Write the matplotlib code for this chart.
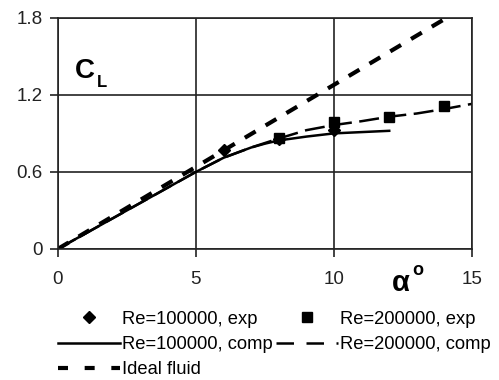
import matplotlib.pyplot as plt
from matplotlib.lines import Line2D

plt.rcParams['font.family'] = ['Liberation Sans', 'DejaVu Sans']

# measured points (angle of attack in degrees, lift coefficient)
exp100_a = [6, 8, 10]
exp100_cl = [0.77, 0.86, 0.93]
exp200_a = [8, 10, 12, 14]
exp200_cl = [0.865, 0.99, 1.03, 1.11]

# computed curves
comp100_a = [0, 1, 2, 3, 4, 5, 6, 7, 7.5, 8, 9, 10, 11, 12]
comp100_cl = [0, 0.12, 0.24, 0.36, 0.48, 0.6, 0.71, 0.79, 0.82, 0.845, 0.875, 0.9, 0.91, 0.92]
comp200_a = [0, 1, 2, 3, 4, 5, 6, 7, 8, 9, 10, 11, 12, 13, 14, 15]
comp200_cl = [0, 0.12, 0.24, 0.36, 0.48, 0.6, 0.71, 0.79, 0.86, 0.925, 0.965, 0.995, 1.03, 1.055, 1.09, 1.13]
ideal_a = [0, 14]
ideal_cl = [0, 1.79]

xticks = [0, 5, 10, 15]
yticks = [0, 0.6, 1.2, 1.8]

fig = plt.figure(figsize=(4.99, 3.8), dpi=100)
ax = fig.add_axes([0.116, 0.345, 0.83, 0.608])

ax.plot(ideal_a, ideal_cl, color='black', lw=3, dashes=(3, 2.8), label='Ideal fluid')
ax.plot(comp100_a, comp100_cl, color='black', lw=1.8, label='Re=100000, comp')
ax.plot(comp200_a, comp200_cl, color='black', lw=1.8, dashes=(8, 3), label='Re=200000, comp')
ax.plot(exp100_a, exp100_cl, 'D', color='black', ms=6, ls='none', label='Re=100000, exp')
ax.plot(exp200_a, exp200_cl, 's', color='black', ms=7, ls='none', label='Re=200000, exp')

ax.set_xlim(0, 15)
ax.set_ylim(0, 1.8)
ax.set_xticks(xticks)
ax.set_yticks(yticks)
ax.set_yticklabels(['0', '0.6', '1.2', '1.8'])
ax.grid(True, color='#222222', lw=1.2)
for s in ax.spines.values():
    s.set_color('#222222')
    s.set_linewidth(1.2)
ax.tick_params(axis='both', labelsize=13.5, length=6, width=1.2, color='#222222', labelcolor='#222222')
ax.tick_params(axis='y', pad=5)
ax.tick_params(axis='x', pad=10)

ax.text(0.6, 1.33, 'C', fontsize=20, fontweight='bold')
ax.text(1.42, 1.26, 'L', fontsize=12, fontweight='bold')
fig.text(0.786, 0.255, 'α', fontsize=21, fontweight='bold', ha='left', va='center')
fig.text(0.826, 0.287, 'o', fontsize=13, fontweight='bold', ha='left', va='center')

handles = [
    Line2D([], [], marker='D', color='black', ms=6, ls='none'),
    Line2D([], [], color='black', lw=1.8),
    Line2D([], [], color='black', lw=3, dashes=(2.4, 4.0)),
    Line2D([], [], marker='s', color='black', ms=7, ls='none'),
    Line2D([], [], color='black', lw=1.8, dashes=(7, 5)),
]
labels = ['Re=100000, exp', 'Re=100000, comp', 'Ideal fluid',
          'Re=200000, exp', 'Re=200000, comp']
fig.legend(handles, labels, loc='upper left', bbox_to_anchor=(0.116, 0.182),
           ncol=2, frameon=False, fontsize=13.2, handlelength=3.4, handletextpad=0.1,
           columnspacing=0.15, borderpad=0, borderaxespad=0, labelspacing=0.45)

fig.savefig('out.png', dpi=100)
